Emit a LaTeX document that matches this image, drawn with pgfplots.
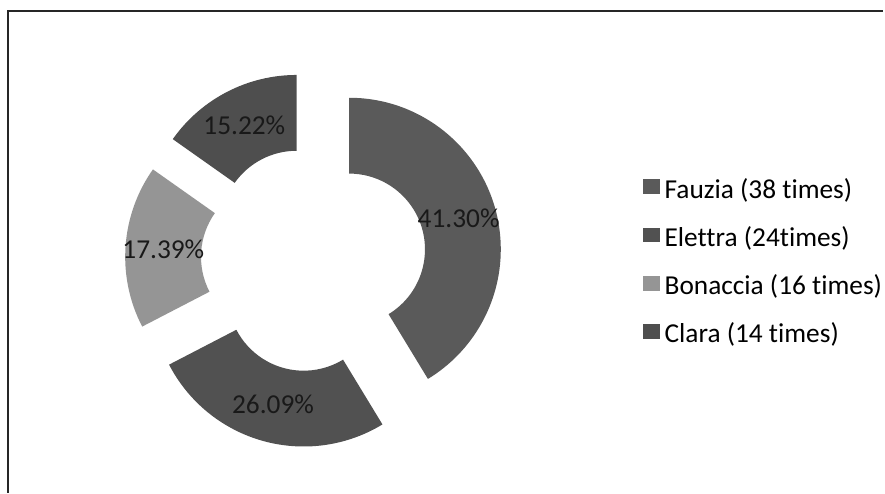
\documentclass[border=0pt]{standalone}
\usepackage{pgfplots}
\pgfplotsset{compat=1.18}
\usepackage{pgfplotstable}
\usepackage{fontspec}
\setmainfont{Carlito}[Ligatures=NoCommon]

\definecolor{fauzia}{HTML}{5A5A5A}
\definecolor{elettra}{HTML}{515151}
\definecolor{bonaccia}{HTML}{959595}
\definecolor{clara}{HTML}{4E4E4E}

% counts per name, share in percent, fill colour
\pgfplotstableread{
name     count  pct    col
Fauzia   38     41.30  fauzia
Elettra  24     26.09  elettra
Bonaccia 16     17.39  bonaccia
Clara    14     15.22  clara
}\donutdata

\newcommand\bigfont{\fontsize{27.5}{33}\selectfont}

\begin{document}
\begin{tikzpicture}
\begin{axis}[
    scale only axis, width=885bp, height=494bp,
    xmin=0, xmax=885, ymin=0, ymax=494,
    hide axis, clip=false,
    legend cell align=left,
    legend style={
        at={(axis cs:641.7,316.3)}, anchor=north west,
        draw=none, fill=none, font=\bigfont,
        row sep=23bp, column sep=5bp,
        nodes={inner sep=0pt, text height=18bp, text depth=6bp},
    },
]
    \path (axis cs:0,0) rectangle (axis cs:885,494);

    % frame (only top and left edges are in the picture)
    \draw[black!85, line width=1.3bp] (axis cs:8,0) -- (axis cs:8,483) -- (axis cs:885,483);

    % exploded donut: centre (314.4,234), R=152, r=76, offset 37
    \def\cum{0}
    \pgfplotsforeachungrouped \i in {0,...,3}{
        \pgfplotstablegetelem{\i}{count}\of\donutdata \let\cnt\pgfplotsretval
        \pgfplotstablegetelem{\i}{pct}\of\donutdata \let\pc\pgfplotsretval
        \pgfplotstablegetelem{\i}{col}\of\donutdata \let\colname\pgfplotsretval
        \pgfmathsetmacro\angA{90-\cum/92*360}
        \pgfmathsetmacro\angB{90-(\cum+\cnt)/92*360}
        \pgfmathsetmacro\angM{(\angA+\angB)/2}
        \pgfmathsetmacro\ox{314.4+37*cos(\angM)}
        \pgfmathsetmacro\oy{234+37*sin(\angM)}
        \pgfmathsetmacro\lx{\ox+114*cos(\angM)}
        \pgfmathsetmacro\ly{\oy+114*sin(\angM)}
        \edef\temp{
            \noexpand\fill[\colname]
                ([shift={(\angA:152bp)}]axis cs:\ox,\oy)
                arc[start angle=\angA, end angle=\angB, radius=152bp]
                -- ([shift={(\angB:76bp)}]axis cs:\ox,\oy)
                arc[start angle=\angB, end angle=\angA, radius=76bp] -- cycle;
            \noexpand\node[font=\noexpand\bigfont, inner sep=0pt, text=black!90]
                at (axis cs:\lx,\ly) {\pc\noexpand\%};
        }
        \temp
        \pgfmathsetmacro\cum{\cum+\cnt}
    }

    \addlegendimage{legend image code/.code={\fill[fauzia] (0bp,-1bp) rectangle (16bp,13bp);}}
    \addlegendentry{Fauzia (38 times)}
    \addlegendimage{legend image code/.code={\fill[elettra] (0bp,-1bp) rectangle (16bp,13bp);}}
    \addlegendentry{Elettra (24times)}
    \addlegendimage{legend image code/.code={\fill[bonaccia] (0bp,-1bp) rectangle (16bp,13bp);}}
    \addlegendentry{Bonaccia (16 times)}
    \addlegendimage{legend image code/.code={\fill[clara] (0bp,-1bp) rectangle (16bp,13bp);}}
    \addlegendentry{Clara (14 times)}
\end{axis}
\end{tikzpicture}
\end{document}
